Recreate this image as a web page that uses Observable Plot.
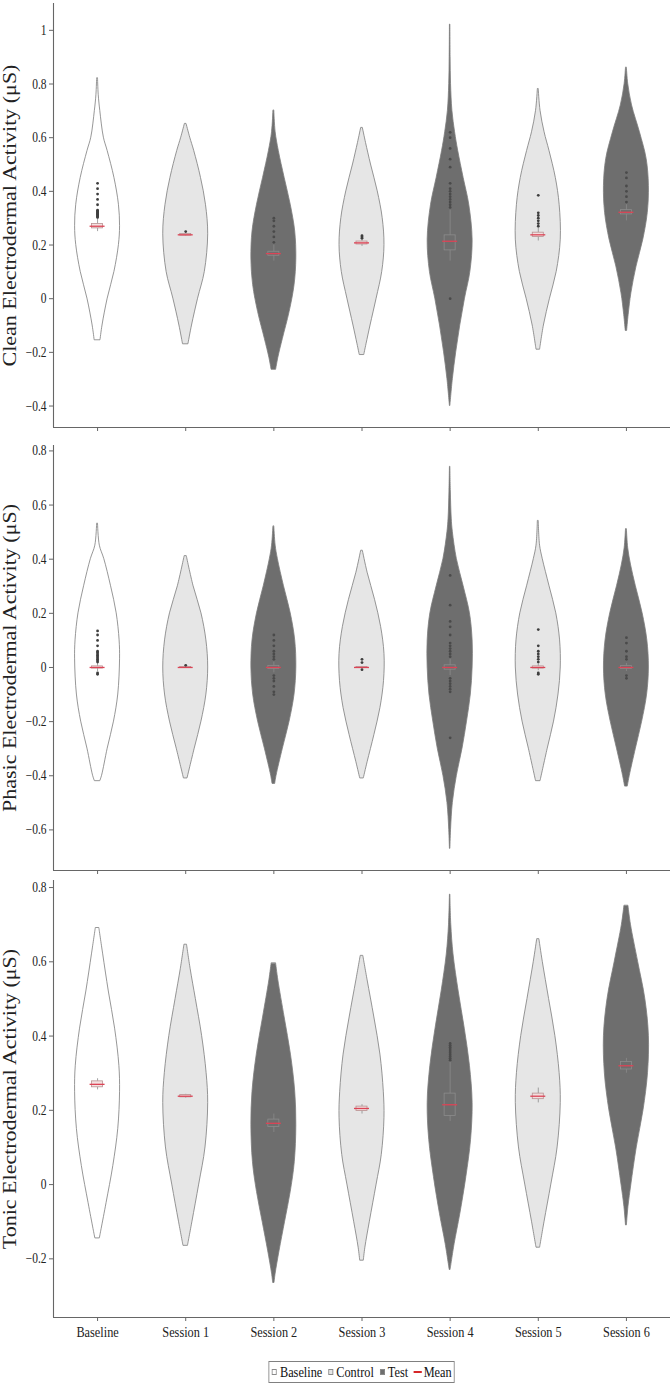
<!DOCTYPE html>
<html>
<head>
<meta charset="utf-8">
<script src="https://cdn.jsdelivr.net/npm/d3@7"></script>
<script src="https://cdn.jsdelivr.net/npm/@observablehq/plot@0.6"></script>
<style>
  html, body { margin: 0; padding: 0; background: #fff; }
  body { width: 672px; font-family: "Liberation Serif", "Times New Roman", serif; }
  svg { display: block; }
  svg text { font-family: "Liberation Serif", "Times New Roman", serif; }
  #legend-wrap { margin-left: 53px; width: 617px; display: flex; justify-content: center; margin-top: 11px; }
  #legend { display: flex; align-items: center; border: 1px solid #808080; padding: 1px 3px; font-size: 15px; color: #111; line-height: 18px; transform: scaleX(0.82); transform-origin: center; white-space: nowrap; }
  #legend .item { display: flex; align-items: center; margin-right: 7px; }
  #legend .item:last-child { margin-right: 0; }
  #legend .sw { width: 6px; height: 6px; border: 1px solid #8a8a8a; margin-right: 4px; box-sizing: border-box; }
  #legend .ln { width: 10px; height: 2px; background: #d62728; margin-right: 2px; }
</style>
</head>
<body>
<div id="chart"></div>
<div id="legend-wrap"><div id="legend"></div></div>
<script>
// Sessions along the x axis and the condition each one belongs to
const sessions = ["Baseline", "Session 1", "Session 2", "Session 3", "Session 4", "Session 5", "Session 6"];
const groups = ["Baseline", "Control", "Test", "Control", "Test", "Control", "Test"];
const legendLabels = ["Baseline", "Control", "Test", "Mean"];

// Violin outlines: [value (µS), relative density width] from top to bottom
const cleanViolins = [
  [[0.82,0.02],[0.76,0.05],[0.7,0.12],[0.6,0.28],[0.55,0.45],[0.45,0.75],[0.35,0.95],[0.27,1.0],[0.2,0.95],[0.1,0.75],[0,0.45],[-0.1,0.22],[-0.155,0.13]],
  [[0.65,0.04],[0.6,0.2],[0.55,0.38],[0.45,0.68],[0.35,0.9],[0.24,1.0],[0.1,0.85],[0,0.55],[-0.1,0.28],[-0.17,0.12]],
  [[0.70,0.02],[0.62,0.08],[0.55,0.22],[0.45,0.48],[0.35,0.75],[0.25,0.95],[0.15,1.0],[0.05,0.92],[-0.05,0.7],[-0.15,0.4],[-0.22,0.2],[-0.265,0.1]],
  [[0.635,0.04],[0.58,0.18],[0.5,0.4],[0.4,0.7],[0.3,0.92],[0.2,1.0],[0.1,0.9],[0,0.65],[-0.1,0.38],[-0.17,0.2],[-0.21,0.1]],
  [[1.02,0.01],[0.9,0.02],[0.8,0.04],[0.7,0.1],[0.62,0.22],[0.55,0.36],[0.45,0.6],[0.35,0.85],[0.22,1.0],[0.1,0.9],[0,0.66],[-0.1,0.45],[-0.2,0.27],[-0.3,0.12],[-0.4,0.01]],
  [[0.78,0.02],[0.7,0.1],[0.62,0.28],[0.55,0.5],[0.45,0.78],[0.35,0.95],[0.22,1.0],[0.1,0.82],[0,0.52],[-0.1,0.25],[-0.19,0.08]],
  [[0.86,0.02],[0.8,0.08],[0.72,0.25],[0.62,0.6],[0.52,0.9],[0.42,1.0],[0.32,0.95],[0.22,0.75],[0.12,0.45],[0.02,0.22],[-0.06,0.1],[-0.12,0.03]]
];
const phasicViolins = [
  [[0.53,0.02],[0.45,0.1],[0.4,0.3],[0.3,0.6],[0.2,0.85],[0.1,0.98],[0.03,1.0],[-0.1,0.92],[-0.2,0.73],[-0.3,0.45],[-0.4,0.2],[-0.42,0.12]],
  [[0.41,0.05],[0.3,0.35],[0.2,0.7],[0.1,0.92],[0,1.0],[-0.1,0.92],[-0.2,0.7],[-0.3,0.4],[-0.41,0.08]],
  [[0.52,0.02],[0.45,0.08],[0.4,0.18],[0.3,0.45],[0.2,0.75],[0.1,0.95],[0,1.0],[-0.1,0.92],[-0.2,0.7],[-0.3,0.4],[-0.4,0.12],[-0.43,0.06]],
  [[0.43,0.04],[0.35,0.25],[0.25,0.58],[0.15,0.85],[0.05,1.0],[-0.05,0.98],[-0.15,0.82],[-0.25,0.55],[-0.35,0.25],[-0.41,0.08]],
  [[0.74,0.01],[0.65,0.03],[0.55,0.07],[0.5,0.12],[0.4,0.3],[0.3,0.6],[0.2,0.88],[0.1,1.0],[0,1.0],[-0.1,0.92],[-0.2,0.75],[-0.3,0.55],[-0.4,0.3],[-0.5,0.12],[-0.6,0.04],[-0.67,0.01]],
  [[0.54,0.02],[0.45,0.08],[0.4,0.2],[0.3,0.5],[0.2,0.8],[0.1,0.97],[0,1.0],[-0.1,0.9],[-0.2,0.7],[-0.3,0.42],[-0.42,0.1]],
  [[0.51,0.02],[0.44,0.08],[0.38,0.2],[0.3,0.42],[0.2,0.72],[0.1,0.93],[0,1.0],[-0.1,0.92],[-0.2,0.7],[-0.3,0.42],[-0.4,0.15],[-0.44,0.06]]
];
const tonicViolins = [
  [[0.69,0.08],[0.62,0.25],[0.52,0.5],[0.42,0.78],[0.32,0.97],[0.25,1.0],[0.15,0.92],[0.05,0.7],[-0.05,0.4],[-0.12,0.18],[-0.145,0.1]],
  [[0.645,0.06],[0.58,0.22],[0.5,0.45],[0.4,0.73],[0.3,0.93],[0.22,1.0],[0.1,0.88],[0,0.6],[-0.1,0.3],[-0.165,0.1]],
  [[0.595,0.1],[0.55,0.2],[0.45,0.48],[0.35,0.76],[0.25,0.95],[0.16,1.0],[0.06,0.93],[-0.02,0.75],[-0.1,0.5],[-0.18,0.25],[-0.24,0.08],[-0.265,0.03]],
  [[0.615,0.06],[0.55,0.25],[0.45,0.55],[0.35,0.82],[0.25,0.97],[0.18,1.0],[0.08,0.88],[0,0.65],[-0.1,0.35],[-0.17,0.15],[-0.205,0.08]],
  [[0.78,0.01],[0.7,0.05],[0.62,0.15],[0.52,0.38],[0.42,0.65],[0.32,0.88],[0.22,1.0],[0.12,0.93],[0.02,0.72],[-0.08,0.45],[-0.16,0.2],[-0.23,0.02]],
  [[0.66,0.05],[0.6,0.2],[0.5,0.48],[0.4,0.76],[0.3,0.95],[0.22,1.0],[0.1,0.86],[0,0.58],[-0.1,0.28],[-0.17,0.08]],
  [[0.75,0.09],[0.7,0.2],[0.6,0.52],[0.5,0.84],[0.4,1.0],[0.3,0.96],[0.2,0.76],[0.1,0.46],[0,0.22],[-0.06,0.09],[-0.11,0.02]]
];

// Box summaries: [lower whisker, Q1, median, Q3, upper whisker, mean]
const cleanBoxes = [
  [0.25,0.262,0.27,0.278,0.30,0.27],
  [0.233,0.235,0.238,0.241,0.244,0.238],
  [0.14,0.16,0.167,0.175,0.20,0.168],
  [0.195,0.202,0.207,0.213,0.22,0.208],
  [0.14,0.18,0.21,0.236,0.33,0.214],
  [0.215,0.23,0.237,0.246,0.262,0.238],
  [0.29,0.314,0.321,0.33,0.35,0.322]
];
const phasicBoxes = [
  [-0.015,-0.004,0,0.004,0.016,0],
  [-0.003,-0.002,0,0.002,0.003,0],
  [-0.02,-0.006,0,0.006,0.02,0],
  [-0.004,-0.002,0,0.002,0.004,0],
  [-0.03,-0.008,0,0.008,0.03,0],
  [-0.012,-0.004,0,0.004,0.012,0],
  [-0.015,-0.005,0,0.005,0.015,0]
];
const tonicBoxes = [
  [0.255,0.262,0.27,0.278,0.285,0.27],
  [0.233,0.235,0.238,0.241,0.243,0.238],
  [0.14,0.155,0.165,0.175,0.19,0.165],
  [0.19,0.198,0.204,0.21,0.215,0.205],
  [0.17,0.185,0.21,0.245,0.33,0.215],
  [0.22,0.23,0.237,0.245,0.26,0.238],
  [0.3,0.31,0.32,0.33,0.34,0.32]
];

// Outlying observations beyond the whiskers
const cleanOutliers = [
  [0.303,0.306,0.309,0.312,0.315,0.318,0.321,0.324,0.327,0.33,0.35,0.37,0.39,0.41,0.43],
  [0.25],
  [0.21,0.23,0.25,0.27,0.29,0.30],
  [0.225,0.23,0.235],
  [0.34,0.35,0.36,0.37,0.38,0.39,0.40,0.41,0.43,0.49,0.52,0.56,0.60,0.62,0.0],
  [0.27,0.28,0.29,0.30,0.31,0.32,0.385],
  [0.36,0.38,0.40,0.42,0.45,0.47]
];
const phasicOutliers = [
  [0.02,0.025,0.03,0.035,0.04,0.045,0.05,0.055,0.06,0.08,0.10,0.12,0.135,-0.02,-0.025],
  [0.008],
  [0.12,0.10,0.08,0.06,0.05,0.04,0.03,-0.03,-0.04,-0.05,-0.07,-0.09,-0.1],
  [0.03,0.018,-0.008],
  [0.34,0.23,0.17,0.15,0.12,0.09,0.08,0.07,0.06,0.05,0.04,-0.04,-0.05,-0.06,-0.07,-0.08,-0.09,-0.26],
  [0.14,0.08,0.06,0.05,0.04,0.03,0.02,-0.02,-0.025],
  [0.11,0.09,0.06,0.04,0.03,-0.03,-0.04]
];
const tonicOutliers = [
  [], [], [], [],
  [0.335,0.34,0.345,0.35,0.355,0.36,0.365,0.37,0.375,0.38],
  [], []
];

// Y tick values per panel
const cleanTicks = [-0.4,-0.2,0,0.2,0.4,0.6,0.8,1];
const phasicTicks = [-0.6,-0.4,-0.2,0,0.2,0.4,0.6,0.8];
const tonicTicks = [-0.2,0,0.2,0.4,0.6,0.8];

const groupFill = {Baseline: "#ffffff", Control: "#e6e6e6", Test: "#6e6e6e"};
const boxFill = {Baseline: "#f4e2e2", Control: "#f1dede", Test: "none"};
const dotFill = {Baseline: "#3e3e3e", Control: "#3e3e3e", Test: "#4a4a4a"};
const halfWidth = 0.255;
const fontFamily = "Liberation Serif, Times New Roman, serif";
const fmt = d => String(+d.toFixed(1)).replace("-", "\u2212");

// Serif lettering, narrowed horizontally
function condense(svg, k) {
  svg.querySelectorAll("text").forEach(t => {
    t.setAttribute("font-family", fontFamily);
    t.style.fontFamily = fontFamily;
    const tr = t.getAttribute("transform") || "";
    if (tr.includes("rotate")) t.setAttribute("transform", tr + ` scale(1,${k})`);
    else t.setAttribute("transform", tr + ` scale(${k},1)`);
  });
}

function panel({violins, boxes, outliers, ticks, domain, title, height, marginTop, marginBottom, labels}) {
  const shapes = violins.flatMap((prof, i) => prof.map(([v, w]) => ({i, v, w, group: groups[i]})));
  const stats = boxes.map(([lo, q1, med, q3, hi, mean], i) => ({i, lo, q1, med, q3, hi, mean, group: groups[i]}));
  const pts = outliers.flatMap((vals, i) => vals.map(v => ({i, v, group: groups[i]})));
  const svg = Plot.plot({
    width: 672, height, marginTop, marginBottom, marginLeft: 53, marginRight: 2,
    x: {domain: [-0.5, 6.5]},
    y: {domain},
    color: {type: "identity"},
    style: {fontFamily, fontSize: "14px", background: "#fff", overflow: "visible"},
    marks: [
      Plot.areaX(shapes, {
        y: "v",
        x1: d => d.i - halfWidth * d.w,
        x2: d => d.i + halfWidth * d.w,
        z: "i",
        fill: d => groupFill[d.group],
        stroke: "#7c7c7c", strokeWidth: 0.8,
        curve: "catmull-rom"
      }),
      Plot.ruleX(stats, {x: "i", y1: "lo", y2: "q1", stroke: "#8a8a8a", strokeWidth: 0.8}),
      Plot.ruleX(stats, {x: "i", y1: "q3", y2: "hi", stroke: "#8a8a8a", strokeWidth: 0.8}),
      Plot.rect(stats, {
        x1: d => d.i - 0.0625, x2: d => d.i + 0.0625,
        y1: "q1", y2: "q3",
        fill: d => boxFill[d.group],
        stroke: d => d.group === "Test" ? "#8c8c8c" : "#b89090",
        strokeWidth: 0.8
      }),
      Plot.dot(pts, {x: "i", y: "v", r: 1.4, fill: d => dotFill[d.group], stroke: "none"}),
      Plot.ruleY(stats, {y: "mean", x1: d => d.i - 0.085, x2: d => d.i + 0.085, stroke: "#dc4456", strokeWidth: 1.3}),
      Plot.ruleX([-0.5], {stroke: "#666", strokeWidth: 1.1}),
      Plot.ruleY([domain[0]], {stroke: "#666", strokeWidth: 1.1}),
      Plot.axisY({ticks, tickFormat: fmt, tickSize: 4, tickPadding: 3, label: null, stroke: "#666", fill: "#222", fontSize: 14}),
      Plot.axisX({ticks: d3.range(sessions.length), tickFormat: labels ? (i => sessions[i]) : (() => ""), tickSize: 4, tickPadding: 5, label: null, stroke: "#666", fill: "#222", fontSize: 15}),
      Plot.text([title], {frameAnchor: "left", textAnchor: "middle", rotate: -90, dx: -43, fontSize: 22, fill: "#222", text: d => d})
    ]
  });
  condense(svg, 0.82);
  return svg;
}

const chart = document.getElementById("chart");
chart.append(panel({
  violins: cleanViolins, boxes: cleanBoxes, outliers: cleanOutliers, ticks: cleanTicks,
  domain: [-0.48, 1.1], title: "Clean Electrodermal Activity (\u03bcS)",
  height: 440, marginTop: 3, marginBottom: 13, labels: false
}));
chart.append(panel({
  violins: phasicViolins, boxes: phasicBoxes, outliers: phasicOutliers, ticks: phasicTicks,
  domain: [-0.75, 0.82], title: "Phasic Electrodermal Activity (\u03bcS)",
  height: 440, marginTop: 5, marginBottom: 10, labels: false
}));
chart.append(panel({
  violins: tonicViolins, boxes: tonicBoxes, outliers: tonicOutliers, ticks: tonicTicks,
  domain: [-0.358, 0.819], title: "Tonic Electrodermal Activity (\u03bcS)",
  height: 470, marginTop: 0, marginBottom: 33, labels: true
}));

// Legend: condition swatches and the mean marker
const legend = d3.select("#legend");
legendLabels.forEach(label => {
  const item = legend.append("div").attr("class", "item");
  if (label === "Mean") item.append("div").attr("class", "ln");
  else item.append("div").attr("class", "sw").style("background", groupFill[label]);
  item.append("span").text(label);
});
</script>
</body>
</html>
